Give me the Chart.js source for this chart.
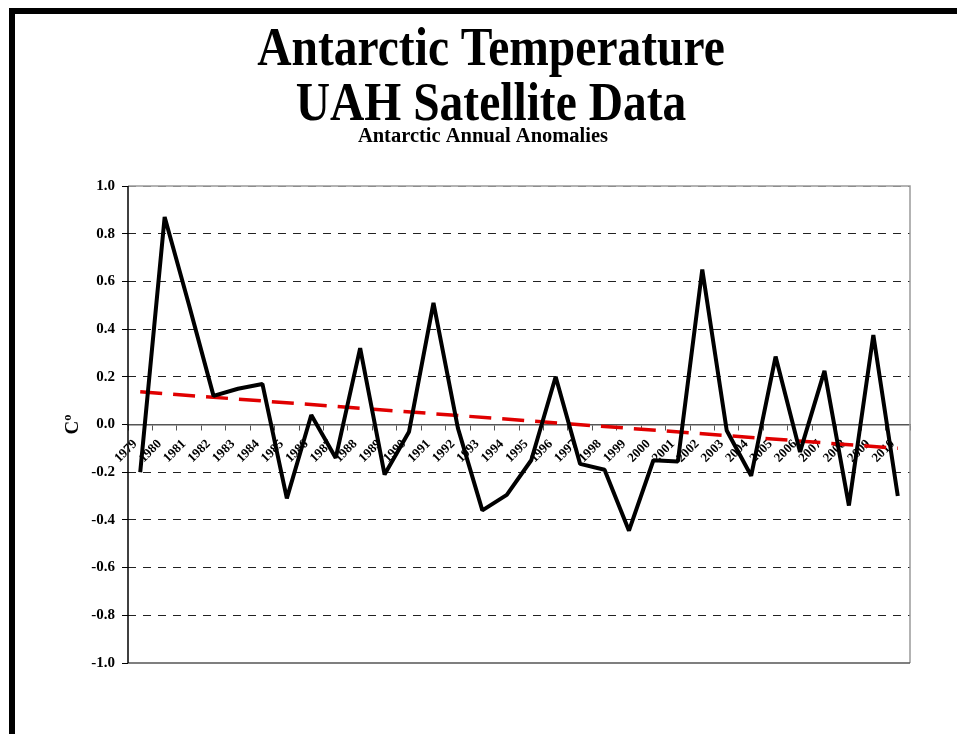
<!DOCTYPE html>
<html>
<head>
<meta charset="utf-8">
<script src="https://cdn.jsdelivr.net/npm/chart.js@4/dist/chart.umd.min.js"></script>
<style>
  html, body { margin: 0; padding: 0; background: #fff; }
  #wrap { position: relative; width: 957px; height: 734px; overflow: hidden; }
  #c { position: absolute; left: 0; top: 0; }
  #frame { position: absolute; left: 9px; top: 8px; width: 1200px; height: 1000px;
           border-left: 6px solid #000; border-top: 6px solid #000; pointer-events: none; }
</style>
</head>
<body>
<div id="wrap">
  <canvas id="c" width="957" height="734"></canvas>
  <div id="frame"></div>
</div>
<script>
// ---- data ----
const years = ['1979','1980','1981','1982','1983','1984','1985','1986','1987','1988',
               '1989','1990','1991','1992','1993','1994','1995','1996','1997','1998',
               '1999','2000','2001','2002','2003','2004','2005','2006','2007','2008',
               '2009','2010'];
const anomalies = [-0.20, 0.87, 0.50, 0.12, 0.15, 0.17, -0.31, 0.04, -0.14, 0.32,
                   -0.21, -0.03, 0.51, -0.015, -0.36, -0.295, -0.15, 0.20, -0.165, -0.19,
                   -0.445, -0.15, -0.155, 0.65, -0.025, -0.215, 0.285, -0.115, 0.225, -0.34,
                   0.375, -0.30];
// linear trend: only its two end values, joined by the line
const trendStart = 0.137;
const trendEnd = -0.100;
const trend = years.map((y, i) => i === 0 ? trendStart : (i === years.length - 1 ? trendEnd : null));
const yTicksMin = -1.0, yTicksMax = 1.0, yStep = 0.2;

const titleLines = ['Antarctic Temperature', 'UAH Satellite Data'];
const subtitleText = 'Antarctic Annual Anomalies';
const yTitle = 'Cº';

const SERIF = '"Liberation Serif", "Times New Roman", serif';

const titlePlugin = {
  id: 'squeezedTitle',
  afterDraw(chart) {
    const ctx = chart.ctx;
    ctx.save();
    ctx.fillStyle = '#000';
    ctx.textAlign = 'center';
    ctx.textBaseline = 'alphabetic';
    ctx.font = 'bold 54px ' + SERIF;
    [[titleLines[0], 491, 65], [titleLines[1], 491, 120]].forEach(([t, x, y]) => {
      ctx.save(); ctx.translate(x, y); ctx.scale(0.88, 1); ctx.fillText(t, 0, 0); ctx.restore();
    });
    ctx.font = 'bold 20.5px ' + SERIF;
    ctx.fillText(subtitleText, 483, 142);
    ctx.restore();
  }
};

const borderPlugin = {
  id: 'plotBorder',
  beforeDatasetsDraw(chart) {
    const {ctx, chartArea: a} = chart;
    ctx.save();
    ctx.setLineDash([]);
    ctx.strokeStyle = '#9a9a9a';
    ctx.lineWidth = 1.5;
    ctx.beginPath();
    ctx.moveTo(a.left, a.top); ctx.lineTo(a.right, a.top); ctx.lineTo(a.right, a.bottom);
    ctx.stroke();
    ctx.strokeStyle = '#555';
    ctx.beginPath();
    ctx.moveTo(a.left, a.bottom); ctx.lineTo(a.right, a.bottom);
    ctx.stroke();
    ctx.strokeStyle = '#000';
    ctx.beginPath();
    ctx.moveTo(a.left, a.top); ctx.lineTo(a.left, a.bottom);
    ctx.stroke();
    ctx.restore();
  }
};

new Chart(document.getElementById('c'), {
  type: 'line',
  data: {
    labels: years,
    datasets: [
      {
        label: 'Trend',
        data: trend,
        borderColor: '#e00000',
        borderWidth: 3.5,
        borderDash: [22, 11],
        pointRadius: 0,
        spanGaps: true,
        fill: false,
        order: 2
      },
      {
        label: 'Antarctic',
        data: anomalies,
        borderColor: '#000',
        borderWidth: 4,
        pointRadius: 0,
        tension: 0,
        fill: false,
        borderJoinStyle: 'bevel',
        order: 1
      }
    ]
  },
  options: {
    responsive: false,
    animation: false,
    devicePixelRatio: 1,
    layout: { padding: { left: 60, right: 47, top: 186, bottom: 71 } },
    plugins: {
      legend: { display: false },
      tooltip: { enabled: false },
      title: { display: false }
    },
    scales: {
      x: {
        type: 'category',
        position: { y: 0 },
        offset: true,
        grid: {
          offset: true,
          drawOnChartArea: false,
          drawTicks: true,
          tickLength: 5,
          tickColor: '#555',
          tickWidth: 1
        },
        border: { display: true, color: '#555', width: 1.5 },
        ticks: {
          autoSkip: false,
          minRotation: 45,
          maxRotation: 45,
          padding: 7,
          labelOffset: -5,
          color: '#000',
          font: { family: SERIF, size: 13, weight: 'bold' }
        }
      },
      y: {
        min: yTicksMin,
        max: yTicksMax,
        afterFit(scale) { scale.width = 68; },
        ticks: {
          stepSize: yStep,
          padding: 7,
          color: '#000',
          font: { family: SERIF, size: 15, weight: 'bold' },
          callback: (v) => (Math.abs(v) < 1e-9 ? 0 : v).toFixed(1)
        },
        grid: {
          drawTicks: true,
          tickLength: 6,
          lineWidth: 1,
          color: (c) => {
            const v = c.tick ? c.tick.value : null;
            if (v === null) return '#222';
            if (Math.abs(v) < 1e-9 || Math.abs(v + 1) < 1e-9) return 'rgba(0,0,0,0)';
            if (Math.abs(v - 1) < 1e-9) return '#666';
            return '#222';
          },
          tickColor: '#000',
          tickBorderDash: []
        },
        border: { display: false, dash: [8, 7] },
        title: {
          display: true,
          text: yTitle,
          color: '#000',
          padding: { top: 2, bottom: 0 },
          font: { family: SERIF, size: 19, weight: 'bold' }
        }
      }
    }
  },
  plugins: [borderPlugin, titlePlugin]
});
</script>
</body>
</html>
